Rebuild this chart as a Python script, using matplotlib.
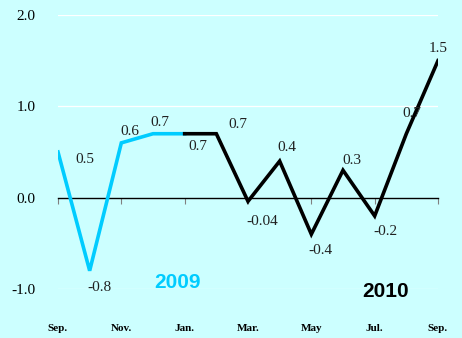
import matplotlib
matplotlib.use("Agg")
import matplotlib.pyplot as plt

# Monthly change, Sep 2009 .. Sep 2010
months = ["Sep.", "Oct.", "Nov.", "Dec.", "Jan.", "Feb.", "Mar.",
          "Apr.", "May", "Jun.", "Jul.", "Aug.", "Sep."]
values = [0.5, -0.8, 0.6, 0.7, 0.7, 0.7, -0.04, 0.4, -0.4, 0.3, -0.2, 0.7, 1.5]
value_labels = ["0.5", "-0.8", "0.6", "0.7", "0.7", "0.7", "-0.04",
                "0.4", "-0.4", "0.3", "-0.2", "0.7", "1.5"]
split_index = 4  # January 2010: 2009 segment ends, 2010 segment begins
y_ticks = [-1.0, 0.0, 1.0, 2.0]
y_tick_labels = ["-1.0", "0.0", "1.0", "2.0"]

# label offsets in pixels from each point
label_offsets = [(27, -7), (10, -17), (9, 11), (7, 11), (13, -13), (22, 9),
                 (14, -20), (7, 14), (9, -16), (9, 10), (11, -16), (6, 20),
                 (0, 12)]

BG = "#CCFFFF"
CYAN = "#00CCFF"
serif = "Liberation Serif"

fig = plt.figure(figsize=(4.62, 3.38), dpi=100, facecolor=BG)
ax = fig.add_axes([58 / 462, 49 / 338, 380 / 462, 274 / 338], facecolor=BG)

x = list(range(len(values)))
ax.plot(x[:split_index + 1], values[:split_index + 1], color=CYAN, lw=2.6,
        solid_joinstyle="miter", zorder=3)
ax.plot(x[split_index:], values[split_index:], color="black", lw=2.6,
        solid_joinstyle="miter", zorder=3)

ax.set_xlim(0, len(values) - 1)
ax.set_ylim(-1.0, 2.0)

# faint white gridlines
for yv in y_ticks:
    if yv != 0:
        ax.axhline(yv, color="white", lw=0.9, zorder=1)

for s in ["top", "right", "left"]:
    ax.spines[s].set_visible(False)
ax.spines["bottom"].set_position(("data", 0))
ax.spines["bottom"].set_color("black")
ax.spines["bottom"].set_linewidth(1.0)

ax.set_xticks(x[::2])
ax.tick_params(axis="x", direction="out", length=4, width=0.8,
               color="#808080", labelbottom=False)
ax.set_yticks(y_ticks)
ax.set_yticklabels(y_tick_labels, fontfamily=serif, fontsize=11)
ax.tick_params(axis="y", length=0, pad=16)

# month labels along the bottom
sec = ax.secondary_xaxis(-0.128)
sec.set_xticks(x[::2])
sec.set_xticklabels(months[::2], fontfamily=serif, fontsize=8, fontweight="bold")
sec.tick_params(length=0, pad=0)
sec.spines["bottom"].set_visible(False)

for xi, v, lab, (dx, dy) in zip(x, values, value_labels, label_offsets):
    ax.annotate(lab, (xi, v), xytext=(dx, dy), textcoords="offset pixels",
                ha="center", va="center", fontfamily=serif, fontsize=11,
                color="#202020", zorder=4, annotation_clip=False)

ax.text(3.76, -0.925, "2009", color=CYAN, fontsize=15, fontweight="bold",
        fontfamily="Liberation Sans", ha="center", va="center")
ax.text(10.33, -1.03, "2010", color="black", fontsize=15, fontweight="bold",
        fontfamily="Liberation Sans", ha="center", va="center")

fig.savefig("out.png", dpi=100, facecolor=BG)
